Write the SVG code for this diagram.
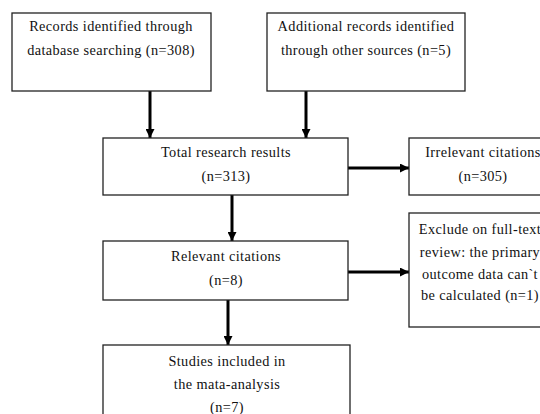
<svg xmlns="http://www.w3.org/2000/svg" width="540" height="414" viewBox="0 0 540 414">
<style>
rect.b{fill:#fff;stroke:#222;stroke-width:1.3}
text{font-family:"Liberation Serif","Times New Roman",serif;font-size:14.3px;letter-spacing:0.4px;fill:#111;text-anchor:middle}
.c line{stroke:#000;stroke-width:3}
</style>
<defs>
<marker id="ah" viewBox="0 0 10 10" refX="10" refY="5" markerWidth="3" markerHeight="3" orient="auto" markerUnits="strokeWidth">
<path d="M0,0L10,5L0,10z" fill="#000"/>
</marker>
</defs>
<rect width="540" height="414" fill="#fff"/>
<g class="c" id="connectors">
<line x1="150" y1="91" x2="150" y2="138" marker-end="url(#ah)"/>
<line x1="306" y1="91" x2="306" y2="138" marker-end="url(#ah)"/>
<line x1="348" y1="168" x2="409" y2="168" marker-end="url(#ah)"/>
<line x1="232" y1="195" x2="232" y2="241" marker-end="url(#ah)"/>
<line x1="348" y1="272" x2="409" y2="272" marker-end="url(#ah)"/>
<line x1="228" y1="300" x2="228" y2="345" marker-end="url(#ah)"/>
</g>
<g id="n1"><rect class="b" x="12" y="13" width="199" height="78"/>
<text x="111" y="31">Records identified through</text>
<text x="111" y="55">database searching (n=308)</text></g>
<g id="n2"><rect class="b" x="267" y="13" width="198" height="78"/>
<text x="366" y="31">Additional records identified</text>
<text x="366" y="55">through other sources (n=5)</text></g>
<g id="n3"><rect class="b" x="103" y="138" width="245" height="57"/>
<text x="226" y="157">Total research results</text>
<text x="226" y="181">(n=313)</text></g>
<g id="n4"><rect class="b" x="409" y="138" width="150" height="57"/>
<text x="483" y="157">Irrelevant citations</text>
<text x="483" y="181">(n=305)</text></g>
<g id="n5"><rect class="b" x="103" y="241" width="245" height="59"/>
<text x="226" y="261">Relevant citations</text>
<text x="226" y="285">(n=8)</text></g>
<g id="n6"><rect class="b" x="409" y="213" width="150" height="114"/>
<text x="480" y="234">Exclude on full-text</text>
<text x="480" y="257">review: the primary</text>
<text x="480" y="279">outcome data can`t</text>
<text x="480" y="300">be calculated (n=1)</text></g>
<g id="n7"><rect class="b" x="103" y="345" width="247" height="90"/>
<text x="227" y="366">Studies included in</text>
<text x="227" y="389">the mata-analysis</text>
<text x="227" y="412">(n=7)</text></g>
</svg>
